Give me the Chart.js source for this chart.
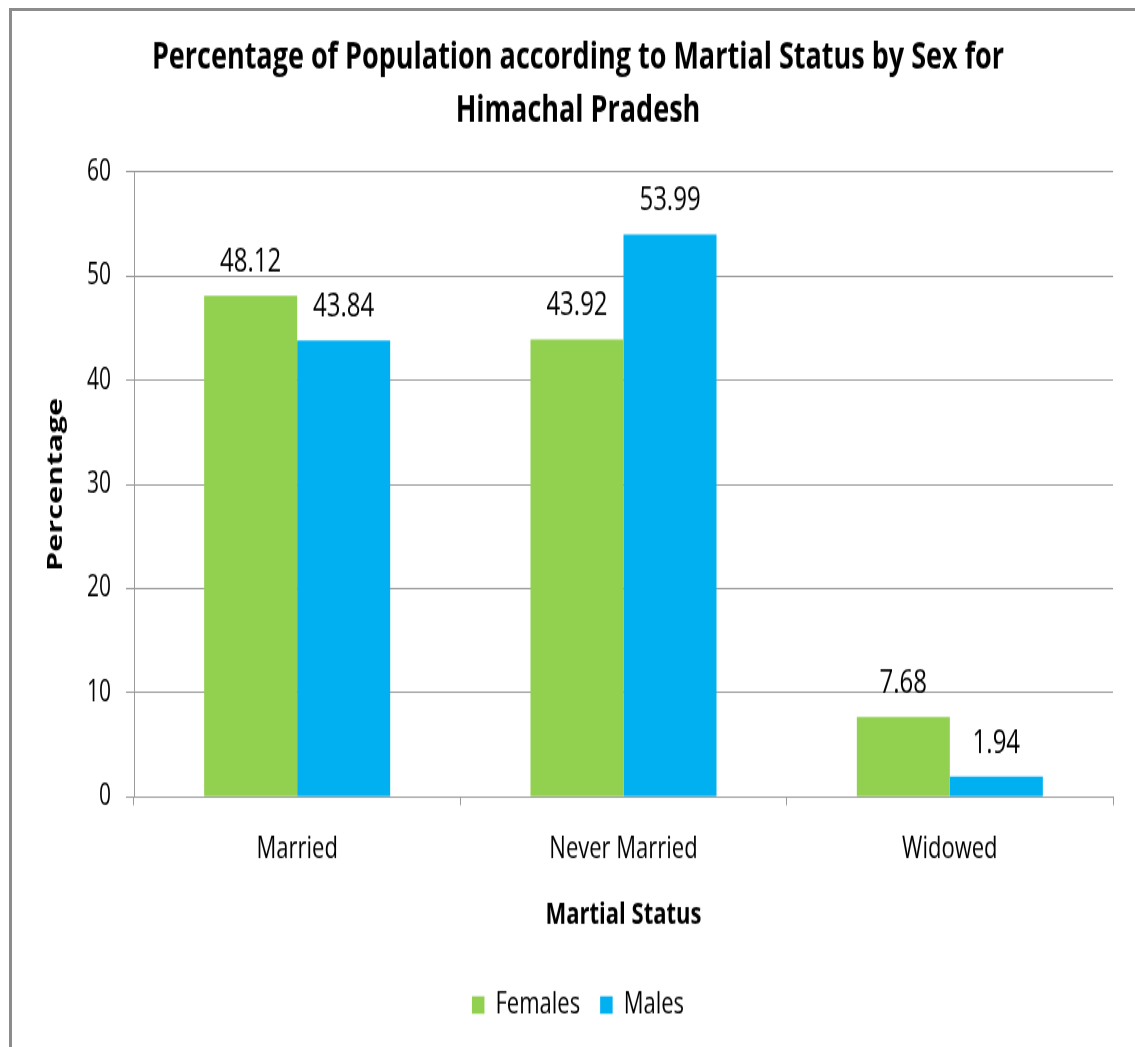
<!DOCTYPE html>
<html>
<head>
<meta charset="utf-8">
<title>Percentage of Population according to Martial Status by Sex for Himachal Pradesh</title>
<script src="https://cdn.jsdelivr.net/npm/chart.js@4/dist/chart.umd.min.js"></script>
<style>
  html, body { margin: 0; padding: 0; background: #ffffff; overflow: hidden; }
  #wrap { position: relative; width: 1135px; height: 1047px; overflow: hidden; }
  #frame {
    position: absolute; left: 9px; top: 8px; width: 1200px; height: 1100px;
    border-left: 3px solid #8c8c8c; border-top: 3px solid #8c8c8c;
    pointer-events: none;
  }
  #stage {
    position: absolute; left: 0; top: 0; width: 1135px; height: 748px;
    transform-origin: 0 0; transform: scaleY(1.39973);
  }
  canvas { display: block; }
</style>
</head>
<body>
<div id="wrap">
  <div id="stage"><canvas id="chart" width="1135" height="748"></canvas></div>
  <div id="frame"></div>
</div>
<script>
// Census shares (%) by marital status and sex
const categories = ['Married', 'Never Married', 'Widowed'];
const females = [48.12, 43.92, 7.68];
const males = [43.84, 53.99, 1.94];
const seriesNames = ['Females', 'Males'];
const yTickValues = [0, 10, 20, 30, 40, 50, 60];
const titleLines = ['Percentage of Population according to Martial Status by Sex for', 'Himachal Pradesh'];
const xAxisTitle = 'Martial Status';
const yAxisTitle = 'Percentage';

const FONT = "'Open Sans', 'Noto Sans', 'DejaVu Sans', sans-serif";
const GRID = '#9a9a9a';

// Writes each bar's value above it
const valueLabels = {
  id: 'valueLabels',
  afterDatasetsDraw(chart) {
    const ctx = chart.ctx;
    ctx.save();
    ctx.font = '24px ' + FONT;
    ctx.fillStyle = '#000000';
    ctx.textAlign = 'center';
    ctx.textBaseline = 'middle';
    chart.data.datasets.forEach((ds, di) => {
      const meta = chart.getDatasetMeta(di);
      meta.data.forEach((bar, i) => {
        ctx.fillText(ds.data[i].toFixed(2), bar.x, bar.y - 24);
      });
    });
    ctx.restore();
  }
};

new Chart(document.getElementById('chart'), {
  type: 'bar',
  data: {
    labels: categories,
    datasets: [
      { label: seriesNames[0], data: females, backgroundColor: '#92D050', borderWidth: 0 },
      { label: seriesNames[1], data: males, backgroundColor: '#00B0F0', borderWidth: 0 }
    ]
  },
  options: {
    responsive: false,
    animation: false,
    devicePixelRatio: 1,
    categoryPercentage: 0.57,
    barPercentage: 1.0,
    layout: { padding: { left: 43, right: 22, top: 0, bottom: 9 } },
    plugins: {
      title: {
        display: true,
        text: titleLines,
        color: '#000000',
        font: { family: FONT, size: 27, weight: 'bold', lineHeight: 1.389 },
        padding: { top: 23, bottom: 24.9 }
      },
      legend: {
        display: true,
        position: 'bottom',
        labels: {
          color: '#000000',
          font: { family: FONT, size: 22 },
          boxWidth: 12.5,
          boxHeight: 12.5,
          padding: 20
        }
      },
      tooltip: { enabled: false }
    },
    scales: {
      x: {
        grid: {
          display: true,
          drawOnChartArea: false,
          drawTicks: true,
          tickLength: 6,
          color: GRID,
          offset: true
        },
        border: { display: true, color: GRID, width: 1 },
        ticks: {
          color: '#000000',
          font: { family: FONT, size: 22 },
          padding: 18,
          maxRotation: 0
        },
        title: {
          display: true,
          text: xAxisTitle,
          color: '#000000',
          font: { family: FONT, size: 22, weight: 'bold' },
          padding: { top: 0, bottom: 20.2 }
        },
        afterFit(scale) { scale.height = 117.7; }
      },
      y: {
        min: 0,
        max: 60,
        afterBuildTicks(scale) { scale.ticks = yTickValues.map(v => ({ value: v })); },
        grid: {
          display: true,
          drawOnChartArea: true,
          drawTicks: true,
          tickLength: 8,
          color: GRID,
          lineWidth: 1
        },
        border: { display: true, color: GRID, width: 1 },
        ticks: {
          color: '#000000',
          font: { family: FONT, size: 21 },
          padding: 15
        },
        title: {
          display: true,
          text: yAxisTitle,
          color: '#000000',
          font: { family: FONT, size: 22, weight: 'bold' },
          padding: { top: 0, bottom: 0 }
        },
        afterFit(scale) { scale.width = 91; }
      }
    }
  },
  plugins: [valueLabels]
});
</script>
</body>
</html>
